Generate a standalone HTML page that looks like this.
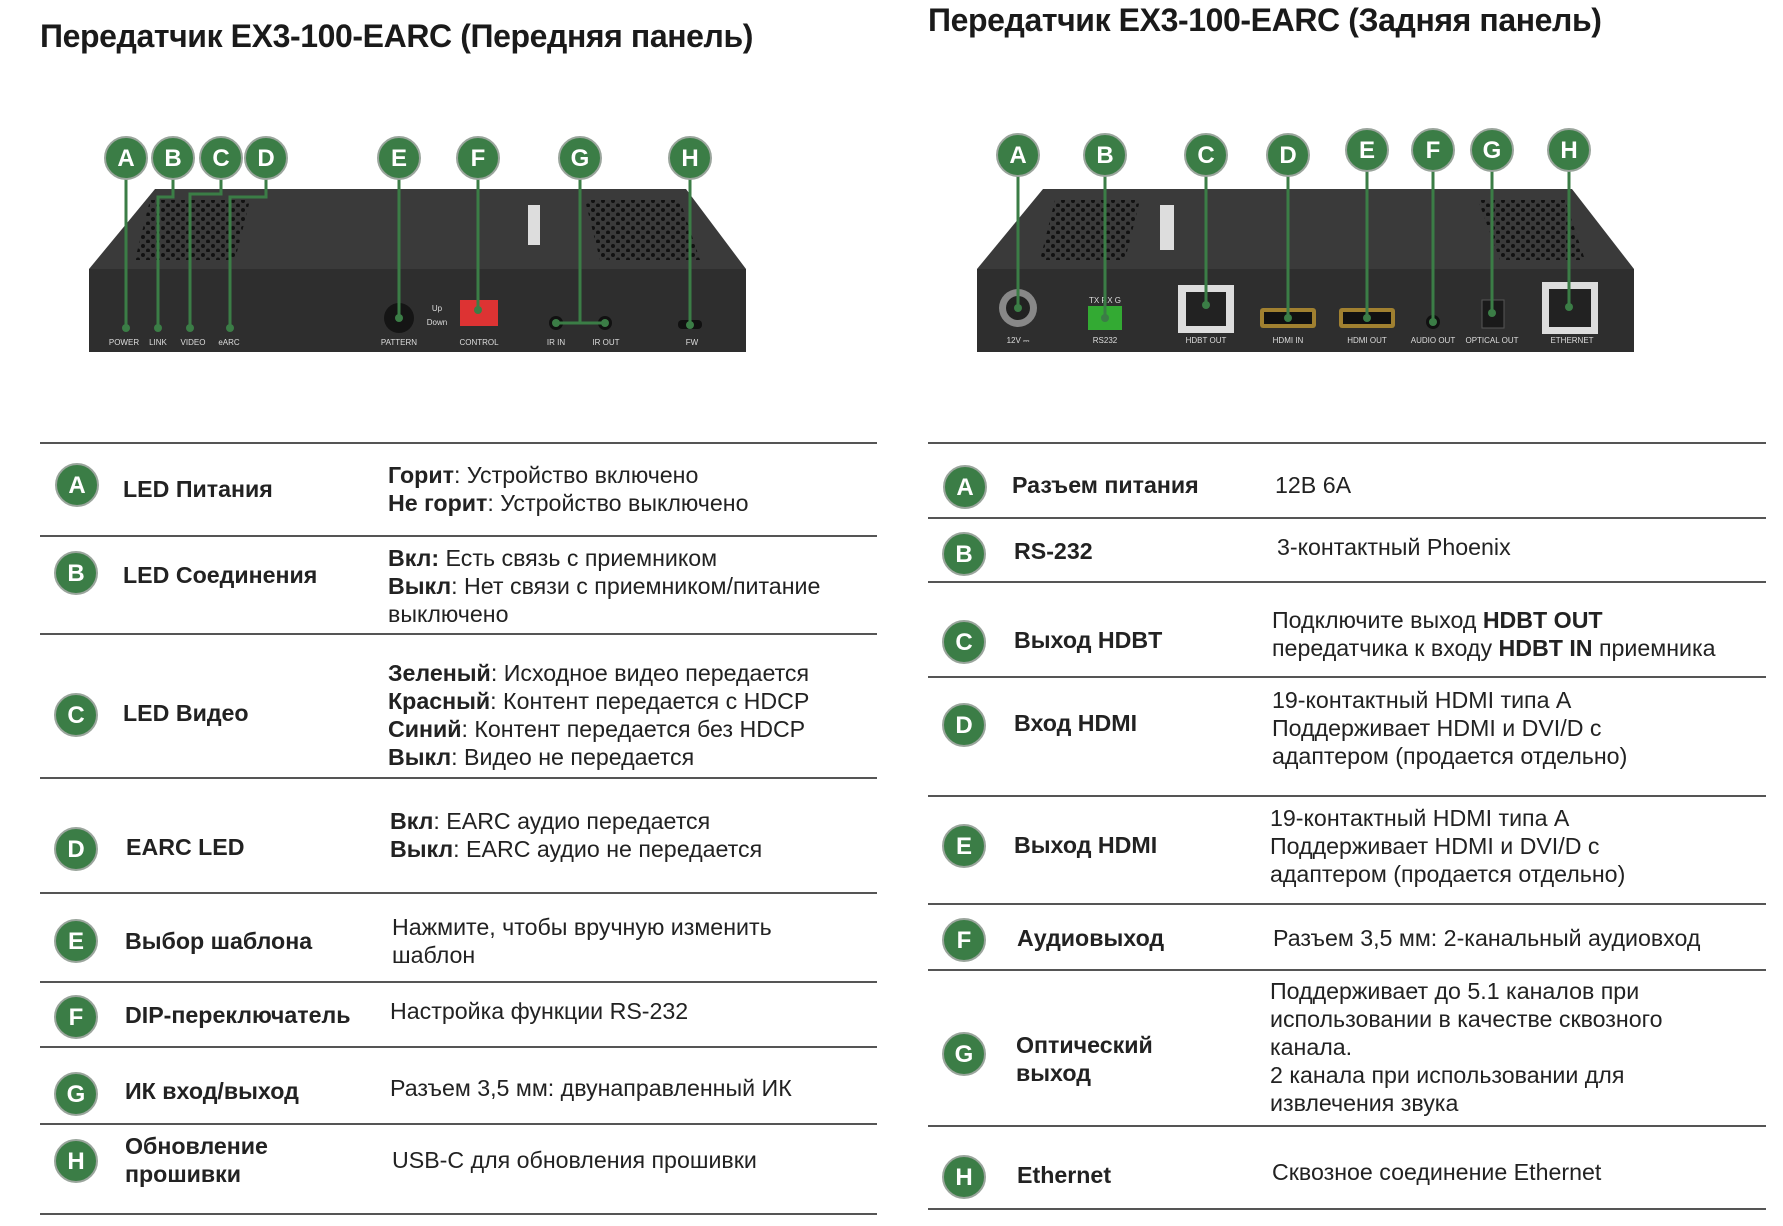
<!DOCTYPE html>
<html><head><meta charset="utf-8"><style>
body{margin:0;width:1783px;height:1226px;background:#fff;position:relative;overflow:hidden;font-family:"Liberation Sans","DejaVu Sans",sans-serif;color:#222}
.t{position:absolute;white-space:nowrap;font-size:23.2px;line-height:28px}
.b{font-weight:bold}
.h{position:absolute;font-weight:bold;font-size:32px;white-space:nowrap;color:#1a1a1a;letter-spacing:-0.4px}
.c{position:absolute;width:40px;height:40px;border-radius:50%;background:#3b7d46;border:2px solid #9aa59c;color:#fff;font-weight:bold;font-size:24px;line-height:42px;text-align:center}
.ln{position:absolute;height:2px;background:#555}
</style></head><body>
<div class="h" style="left:40px;top:18px">Передатчик EX3-100-EARC (Передняя панель)</div>
<div class="h" style="left:928px;top:2px">Передатчик EX3-100-EARC (Задняя панель)</div>

<svg width="1783" height="400" style="position:absolute;left:0;top:0">
<defs>
<pattern id="v" width="10" height="9" patternUnits="userSpaceOnUse"><circle cx="3" cy="3" r="2" fill="#111"/><circle cx="8" cy="7.5" r="2" fill="#111"/></pattern>
</defs>
<polygon points="155,189 686,189 746,269 89,269" fill="#3a3a3a"/>
<rect x="89" y="269" width="657" height="83" fill="#2e2e2e"/>
<polygon points="150,200 250,200 235,260 135,260" fill="url(#v)"/>
<polygon points="585,200 680,200 700,260 600,260" fill="url(#v)"/>
<rect x="528" y="205" width="12" height="40" fill="#ddd"/>
<circle cx="399" cy="318" r="15" fill="#151515"/>
<rect x="460" y="300" width="38" height="26" fill="#d33"/>
<circle cx="556" cy="323" r="7" fill="#111"/><circle cx="605" cy="323" r="7" fill="#111"/>
<rect x="678" y="320" width="24" height="9" rx="4" fill="#111"/>
<g fill="#ddd" font-size="8" font-family="Liberation Sans" text-anchor="middle">
<text x="124" y="345">POWER</text><text x="158" y="345">LINK</text><text x="193" y="345">VIDEO</text><text x="229" y="345">eARC</text>
<text x="399" y="345">PATTERN</text><text x="479" y="345">CONTROL</text><text x="556" y="345">IR IN</text><text x="606" y="345">IR OUT</text><text x="692" y="345">FW</text>
<text x="437" y="311">Up</text><text x="437" y="325">Down</text>
</g>
<g stroke="#3b7d46" stroke-width="3" fill="none">
<path d="M126,170V328"/><path d="M173,170V197H158V328"/><path d="M221,170V194H190V328"/><path d="M266,170V197H230V328"/>
<path d="M399,170V318"/><path d="M478,170V310"/><path d="M580,170V323M556,323H605"/><path d="M690,170V325"/>
</g>
<g fill="#3b7d46"><circle cx="126" cy="328" r="4"/><circle cx="158" cy="328" r="4"/><circle cx="190" cy="328" r="4"/><circle cx="230" cy="328" r="4"/><circle cx="399" cy="318" r="4"/><circle cx="478" cy="310" r="4"/><circle cx="556" cy="323" r="4"/><circle cx="605" cy="323" r="4"/><circle cx="690" cy="325" r="4"/></g>
<polygon points="1043,189 1572,189 1634,269 977,269" fill="#3a3a3a"/>
<rect x="977" y="269" width="657" height="83" fill="#2e2e2e"/>
<polygon points="1055,200 1140,200 1125,260 1040,260" fill="url(#v)"/>
<polygon points="1478,200 1565,200 1585,260 1500,260" fill="url(#v)"/>
<rect x="1160" y="205" width="14" height="45" fill="#ddd"/>
<circle cx="1018" cy="308" r="19" fill="#888"/><circle cx="1018" cy="308" r="12" fill="#222"/>
<rect x="1088" y="306" width="34" height="24" fill="#3a3"/>
<rect x="1178" y="285" width="56" height="48" fill="#ddd"/><rect x="1186" y="292" width="40" height="34" fill="#222"/>
<rect x="1260" y="308" width="56" height="20" rx="3" fill="#a08030"/><rect x="1264" y="312" width="48" height="12" fill="#111"/>
<rect x="1339" y="308" width="56" height="20" rx="3" fill="#a08030"/><rect x="1343" y="312" width="48" height="12" fill="#111"/>
<circle cx="1433" cy="322" r="7" fill="#111"/>
<rect x="1482" y="300" width="22" height="28" fill="#1a1a1a" stroke="#555"/>
<rect x="1542" y="282" width="56" height="52" fill="#ddd"/><rect x="1549" y="289" width="42" height="38" fill="#222"/>
<g fill="#ddd" font-size="8" font-family="Liberation Sans" text-anchor="middle">
<text x="1018" y="343">12V ⎓</text><text x="1105" y="343">RS232</text><text x="1105" y="303">TX RX G</text><text x="1206" y="343">HDBT OUT</text><text x="1288" y="343">HDMI IN</text><text x="1367" y="343">HDMI OUT</text><text x="1433" y="343">AUDIO OUT</text><text x="1492" y="343">OPTICAL OUT</text><text x="1572" y="343">ETHERNET</text>
</g>
<g stroke="#3b7d46" stroke-width="3" fill="none">
<path d="M1018,170V308"/><path d="M1105,170V318"/><path d="M1206,170V305"/><path d="M1288,170V318"/><path d="M1367,165V318"/><path d="M1433,165V322"/><path d="M1492,165V313"/><path d="M1569,165V307"/>
</g>
<g fill="#3b7d46"><circle cx="1018" cy="308" r="4"/><circle cx="1105" cy="318" r="4"/><circle cx="1206" cy="305" r="4"/><circle cx="1288" cy="318" r="4"/><circle cx="1367" cy="318" r="4"/><circle cx="1433" cy="322" r="4"/><circle cx="1492" cy="313" r="4"/><circle cx="1569" cy="307" r="4"/></g>
</svg>

<div class="c" style="left:104px;top:136px">A</div><div class="c" style="left:151px;top:136px">B</div><div class="c" style="left:199px;top:136px">C</div><div class="c" style="left:244px;top:136px">D</div>
<div class="c" style="left:377px;top:136px">E</div><div class="c" style="left:456px;top:136px">F</div><div class="c" style="left:558px;top:136px">G</div><div class="c" style="left:668px;top:136px">H</div>
<div class="c" style="left:996px;top:133px">A</div><div class="c" style="left:1083px;top:133px">B</div><div class="c" style="left:1184px;top:133px">C</div><div class="c" style="left:1266px;top:133px">D</div>
<div class="c" style="left:1345px;top:128px">E</div><div class="c" style="left:1411px;top:128px">F</div><div class="c" style="left:1470px;top:128px">G</div><div class="c" style="left:1547px;top:128px">H</div>

<div class="ln" style="left:40px;width:837px;top:442px"></div>
<div class="ln" style="left:40px;width:837px;top:535px"></div>
<div class="ln" style="left:40px;width:837px;top:633px"></div>
<div class="ln" style="left:40px;width:837px;top:777px"></div>
<div class="ln" style="left:40px;width:837px;top:892px"></div>
<div class="ln" style="left:40px;width:837px;top:981px"></div>
<div class="ln" style="left:40px;width:837px;top:1046px"></div>
<div class="ln" style="left:40px;width:837px;top:1123px"></div>
<div class="ln" style="left:40px;width:837px;top:1213px"></div>

<div class="c" style="left:55px;top:463px">A</div><div class="t b" style="left:123px;top:475px">LED Питания</div>
<div class="t" style="left:388px;top:461px"><b>Горит</b>: Устройство включено<br><b>Не горит</b>: Устройство выключено</div>
<div class="c" style="left:54px;top:551px">B</div><div class="t b" style="left:123px;top:561px">LED Соединения</div>
<div class="t" style="left:388px;top:544px"><b>Вкл:</b> Есть связь с приемником<br><b>Выкл</b>: Нет связи с приемником/питание<br>выключено</div>
<div class="c" style="left:54px;top:693px">C</div><div class="t b" style="left:123px;top:699px">LED Видео</div>
<div class="t" style="left:388px;top:659px"><b>Зеленый</b>: Исходное видео передается<br><b>Красный</b>: Контент передается с HDCP<br><b>Синий</b>: Контент передается без HDCP<br><b>Выкл</b>: Видео не передается</div>
<div class="c" style="left:54px;top:827px">D</div><div class="t b" style="left:126px;top:833px">EARC LED</div>
<div class="t" style="left:390px;top:807px"><b>Вкл</b>: EARC аудио передается<br><b>Выкл</b>: EARC аудио не передается</div>
<div class="c" style="left:54px;top:919px">E</div><div class="t b" style="left:125px;top:927px">Выбор шаблона</div>
<div class="t" style="left:392px;top:913px">Нажмите, чтобы вручную изменить<br>шаблон</div>
<div class="c" style="left:54px;top:995px">F</div><div class="t b" style="left:125px;top:1001px">DIP-переключатель</div>
<div class="t" style="left:390px;top:997px">Настройка функции RS-232</div>
<div class="c" style="left:54px;top:1072px">G</div><div class="t b" style="left:125px;top:1077px">ИК вход/выход</div>
<div class="t" style="left:390px;top:1074px">Разъем 3,5 мм: двунаправленный ИК</div>
<div class="c" style="left:54px;top:1139px">H</div><div class="t b" style="left:125px;top:1132px">Обновление<br>прошивки</div>
<div class="t" style="left:392px;top:1146px">USB-C для обновления прошивки</div>

<div class="ln" style="left:928px;width:838px;top:442px"></div>
<div class="ln" style="left:928px;width:838px;top:517px"></div>
<div class="ln" style="left:928px;width:838px;top:581px"></div>
<div class="ln" style="left:928px;width:838px;top:676px"></div>
<div class="ln" style="left:928px;width:838px;top:795px"></div>
<div class="ln" style="left:928px;width:838px;top:903px"></div>
<div class="ln" style="left:928px;width:838px;top:969px"></div>
<div class="ln" style="left:928px;width:838px;top:1125px"></div>
<div class="ln" style="left:928px;width:838px;top:1208px"></div>

<div class="c" style="left:943px;top:465px">A</div><div class="t b" style="left:1012px;top:471px">Разъем питания</div>
<div class="t" style="left:1275px;top:471px">12В 6А</div>
<div class="c" style="left:942px;top:532px">B</div><div class="t b" style="left:1014px;top:537px">RS-232</div>
<div class="t" style="left:1277px;top:533px">3-контактный Phoenix</div>
<div class="c" style="left:942px;top:620px">C</div><div class="t b" style="left:1014px;top:626px">Выход HDBT</div>
<div class="t" style="left:1272px;top:606px">Подключите выход <b>HDBT OUT</b><br>передатчика к входу <b>HDBT IN</b> приемника</div>
<div class="c" style="left:942px;top:703px">D</div><div class="t b" style="left:1014px;top:709px">Вход HDMI</div>
<div class="t" style="left:1272px;top:686px">19-контактный HDMI типа A<br>Поддерживает HDMI и DVI/D с<br>адаптером (продается отдельно)</div>
<div class="c" style="left:942px;top:824px">E</div><div class="t b" style="left:1014px;top:831px">Выход HDMI</div>
<div class="t" style="left:1270px;top:804px">19-контактный HDMI типа A<br>Поддерживает HDMI и DVI/D с<br>адаптером (продается отдельно)</div>
<div class="c" style="left:942px;top:918px">F</div><div class="t b" style="left:1017px;top:924px">Аудиовыход</div>
<div class="t" style="left:1273px;top:924px">Разъем 3,5 мм: 2-канальный аудиовход</div>
<div class="c" style="left:942px;top:1032px">G</div><div class="t b" style="left:1016px;top:1031px">Оптический<br>выход</div>
<div class="t" style="left:1270px;top:977px">Поддерживает до 5.1 каналов при<br>использовании в качестве сквозного<br>канала.<br>2 канала при использовании для<br>извлечения звука</div>
<div class="c" style="left:942px;top:1155px">H</div><div class="t b" style="left:1017px;top:1161px">Ethernet</div>
<div class="t" style="left:1272px;top:1158px">Сквозное соединение Ethernet</div>
</body></html>
